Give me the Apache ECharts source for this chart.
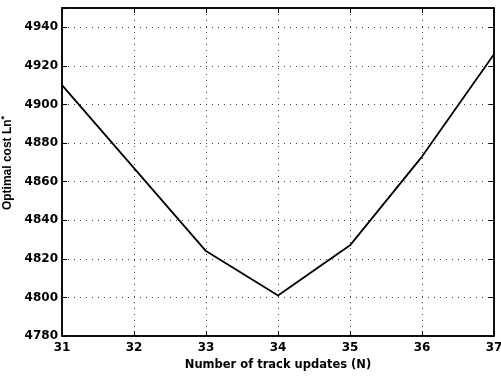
<!DOCTYPE html>
<html>
<head>
<meta charset="utf-8">
<script src="https://cdn.jsdelivr.net/npm/echarts@6/dist/echarts.min.js"></script>
<style>
html,body{margin:0;padding:0;background:#fff;}
#chart{width:501px;height:377px;}
</style>
</head>
<body>
<div id="chart"></div>
<script>
// Track update counts and the optimal cost found for each
const updates = [31, 32, 33, 34, 35, 36, 37];
const optimalCost = [4910, 4867, 4824, 4801, 4827, 4873, 4926];
const yTicks = [4780, 4800, 4820, 4840, 4860, 4880, 4900, 4920, 4940];

const wideFont = '"DejaVu Sans", Arial, sans-serif';
const font = '"Liberation Sans", Arial, sans-serif';
const chart = echarts.init(document.getElementById('chart'));

const frameLine = { show: true, lineStyle: { color: '#000', width: 1.5 } };
const innerTick = { show: true, inside: true, length: 5, lineStyle: { color: '#000' } };
const dotted = { show: true, lineStyle: { color: '#444', type: [1, 5], width: 1 } };

chart.setOption({
  animation: false,
  backgroundColor: '#fff',
  grid: {
    left: 62, right: 7, top: 8, bottom: 41,
    outerBoundsMode: 'none', containLabel: false,
    show: true, borderColor: '#000', borderWidth: 1.5
  },
  xAxis: [{
    type: 'value', min: 31, max: 37, interval: 1,
    axisLine: frameLine,
    axisTick: innerTick,
    axisLabel: { color: '#000', fontFamily: wideFont, fontWeight: 'bold', fontSize: 12, margin: 6 },
    splitLine: dotted,
    name: 'Number of track updates (N)', nameLocation: 'middle', nameGap: 23,
    nameTextStyle: { color: '#000', fontFamily: wideFont, fontWeight: 'bold', fontSize: 11.5 }
  }, {
    type: 'value', min: 31, max: 37, interval: 1, position: 'top',
    axisLine: frameLine,
    axisTick: innerTick,
    axisLabel: { show: false }, splitLine: { show: false }
  }],
  yAxis: [{
    type: 'value', min: yTicks[0], max: 4950, interval: 20,
    axisLine: frameLine,
    axisTick: innerTick,
    axisLabel: {
      color: '#000', fontFamily: wideFont, fontWeight: 'bold', fontSize: 12, margin: 4,
      formatter: v => yTicks.includes(v) ? String(v) : ''
    },
    splitLine: dotted,
    name: '{t|Optimal cost Ln}{s|*}', nameLocation: 'middle', nameGap: 46,
    nameTextStyle: {
      padding: [0, 0, 0, 18],
      rich: {
        t: { color: '#000', fontFamily: font, fontWeight: 'bold', fontSize: 12 },
        s: { color: '#000', fontFamily: font, fontWeight: 'bold', fontSize: 9, verticalAlign: 'top', padding: [0, 0, 6, 0] }
      }
    }
  }, {
    type: 'value', min: yTicks[0], max: 4950, interval: 20, position: 'right',
    axisLine: frameLine,
    axisTick: innerTick,
    axisLabel: { show: false }, splitLine: { show: false }
  }],
  series: [{
    type: 'line',
    xAxisIndex: 0, yAxisIndex: 0,
    data: updates.map((n, i) => [n, optimalCost[i]]),
    showSymbol: false,
    lineStyle: { color: '#000', width: 1.8 }
  }]
});
</script>
</body>
</html>
